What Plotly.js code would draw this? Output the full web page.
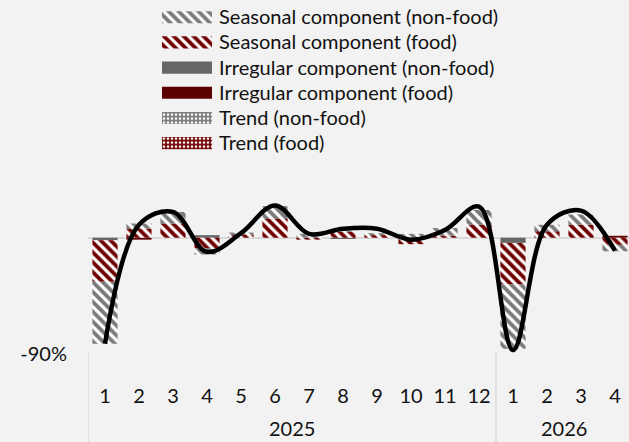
<!DOCTYPE html>
<html>
<head>
<meta charset="utf-8">
<script src="https://cdn.plot.ly/plotly-3.0.1.min.js"></script>
<style>
html,body{margin:0;padding:0;background:#f2f2f2;overflow:hidden;width:629px;height:442px;}
#chart{width:640px;height:442px;}
</style>
</head>
<body>
<div id="chart"></div>
<script>
// ---- data ----
const years  = ['2025','2025','2025','2025','2025','2025','2025','2025','2025','2025','2025','2025','2026','2026','2026','2026'];
const months = ['1','2','3','4','5','6','7','8','9','10','11','12','1','2','3','4'];

const trendFood        = [0,0,0,0,0,0,0,0,0,0,0,0,0,0,0,0];
const trendNonFood     = [0,0,0,0,0,0,0,0,0,0,0,0,0,0,0,0];
const irregularFood    = [0,-1.5,0,0,0,0,0,0,0,0,0,0,0,0,0,1.5];
const irregularNonFood = [-2,0,0,2,0,0,0,-1,0,0,0,0,-4,0,0,0];
const seasonalFood     = [-32,7,11,-8,2.5,14.5,-1.5,4.5,2,-5,1.5,10,-32,5,10,-5.5];
const seasonalNonFood  = [-48,4,9,-5,1.5,10,3,1,1.5,3,6,11.5,-50,5,8,-5];
const total            = [-82,10,20,-11,3.5,25,3,7,7,-1.5,6,24,-87,10,21,-10];

const legendLabels = ['Seasonal component (non-food)','Seasonal component (food)',
  'Irregular component (non-food)','Irregular component (food)','Trend (non-food)','Trend (food)'];
const yTickVals = [-90];
const yTickText = ['-90%'];

// ---- styles ----
const GREY = '#7a7a7a', RED = '#700000';
const styles = {
  'Seasonal component (non-food)': {color:'#ffffff', pattern:{shape:'\\', fgcolor:GREY, bgcolor:'#ffffff', size:7, solidity:0.55, fillmode:'replace'}},
  'Seasonal component (food)':     {color:'#ffffff', pattern:{shape:'\\', fgcolor:RED, bgcolor:'#ffffff', size:7, solidity:0.55, fillmode:'replace'}},
  'Irregular component (non-food)':{color:'#666666'},
  'Irregular component (food)':    {color:'#5c0000'},
  'Trend (non-food)':              {color:GREY, pattern:{shape:'.', fgcolor:'#ffffff', bgcolor:GREY, size:4, solidity:0.35, fillmode:'replace'}},
  'Trend (food)':                  {color:RED, pattern:{shape:'.', fgcolor:'#ffffff', bgcolor:RED, size:4, solidity:0.35, fillmode:'replace'}}
};

// unique category keys, shown as month numbers
const xKeys = years.map((y, i) => y + '-' + months[i]);

const series = [
  ['Trend (food)', trendFood],
  ['Trend (non-food)', trendNonFood],
  ['Irregular component (food)', irregularFood],
  ['Irregular component (non-food)', irregularNonFood],
  ['Seasonal component (food)', seasonalFood],
  ['Seasonal component (non-food)', seasonalNonFood]
];

const traces = series.map(([name, vals]) => ({
  type:'bar', name:name, x:xKeys, y:vals, width:0.74,
  marker:Object.assign({line:{width:0}}, styles[name]),
  showlegend:false, hoverinfo:'skip'
}));

traces.push({
  type:'scatter', mode:'lines', name:'Total', x:xKeys, y:total,
  line:{color:'#000000', width:4.5, shape:'spline', smoothing:1},
  showlegend:false, hoverinfo:'skip'
});

// drawn legend keys (bars on a small auxiliary axis pair)
legendLabels.forEach(name => {
  traces.push({
    type:'bar', orientation:'h', x:[1], y:[name], width:0.48,
    xaxis:'x2', yaxis:'y2',
    marker:Object.assign({line:{width:0}}, styles[name]),
    showlegend:false, hoverinfo:'skip'
  });
});

// year groups -> label at group centre, dividers at group edges
const groups = [];
years.forEach((y, i) => {
  const g = groups.length && groups[groups.length-1].year === y ? groups[groups.length-1] : null;
  if (g) g.end = i; else groups.push({year:y, start:i, end:i});
});

const FONT = 'Lato, "Open Sans", sans-serif';
const TXT = '#111111';

const annotations = groups.map(g => ({
  xref:'x', yref:'paper', x:(g.start + g.end)/2, y:-0.208, yanchor:'middle', xanchor:'center',
  text:g.year, showarrow:false, font:{family:FONT, size:20, color:TXT}
}));
const shapes = [];
groups.forEach((g, k) => {
  if (k === 0) shapes.push({type:'line', xref:'x', yref:'paper', x0:g.start-0.5, x1:g.start-0.5, y0:0.005, y1:-0.27, line:{color:'#d9d9d9', width:1.5}});
  shapes.push({type:'line', xref:'x', yref:'paper', x0:g.end+0.5, x1:g.end+0.5, y0:0.005, y1:-0.27, line:{color:'#d9d9d9', width:1.5}});
});

const layout = {
  width:640, height:442,
  margin:{l:88, r:8, t:0, b:88},
  paper_bgcolor:'#f2f2f2', plot_bgcolor:'#f2f2f2',
  font:{family:FONT, size:20, color:TXT},
  barmode:'relative',
  showlegend:false,
  xaxis:{
    type:'category', range:[-0.5,15.5],
    showgrid:false, zeroline:false, showline:false,
    tickmode:'array', tickvals:xKeys, ticktext:months,
    ticks:'', ticklabelstandoff:28,
    tickfont:{family:FONT, size:20, color:TXT}
  },
  yaxis:{
    range:[-90,184], showgrid:false, showline:false,
    zeroline:true, zerolinecolor:'#d9d9d9', zerolinewidth:2,
    tickmode:'array', tickvals:yTickVals, ticktext:yTickText,
    ticks:'', ticklabelstandoff:20,
    tickfont:{family:FONT, size:20, color:TXT}
  },
  xaxis2:{domain:[0.136,0.228], anchor:'y2', range:[0,1], showgrid:false, zeroline:false, showticklabels:false, showline:false, ticks:''},
  yaxis2:{domain:[0.56,0.987], anchor:'x2', side:'right', type:'category', autorange:'reversed',
    showgrid:false, zeroline:false, showline:false, ticks:'', ticklabelstandoff:6,
    tickfont:{family:FONT, size:20, color:TXT}},
  annotations:annotations,
  shapes:shapes
};

Plotly.newPlot('chart', traces, layout, {displayModeBar:false, staticPlot:true});
</script>
</body>
</html>
